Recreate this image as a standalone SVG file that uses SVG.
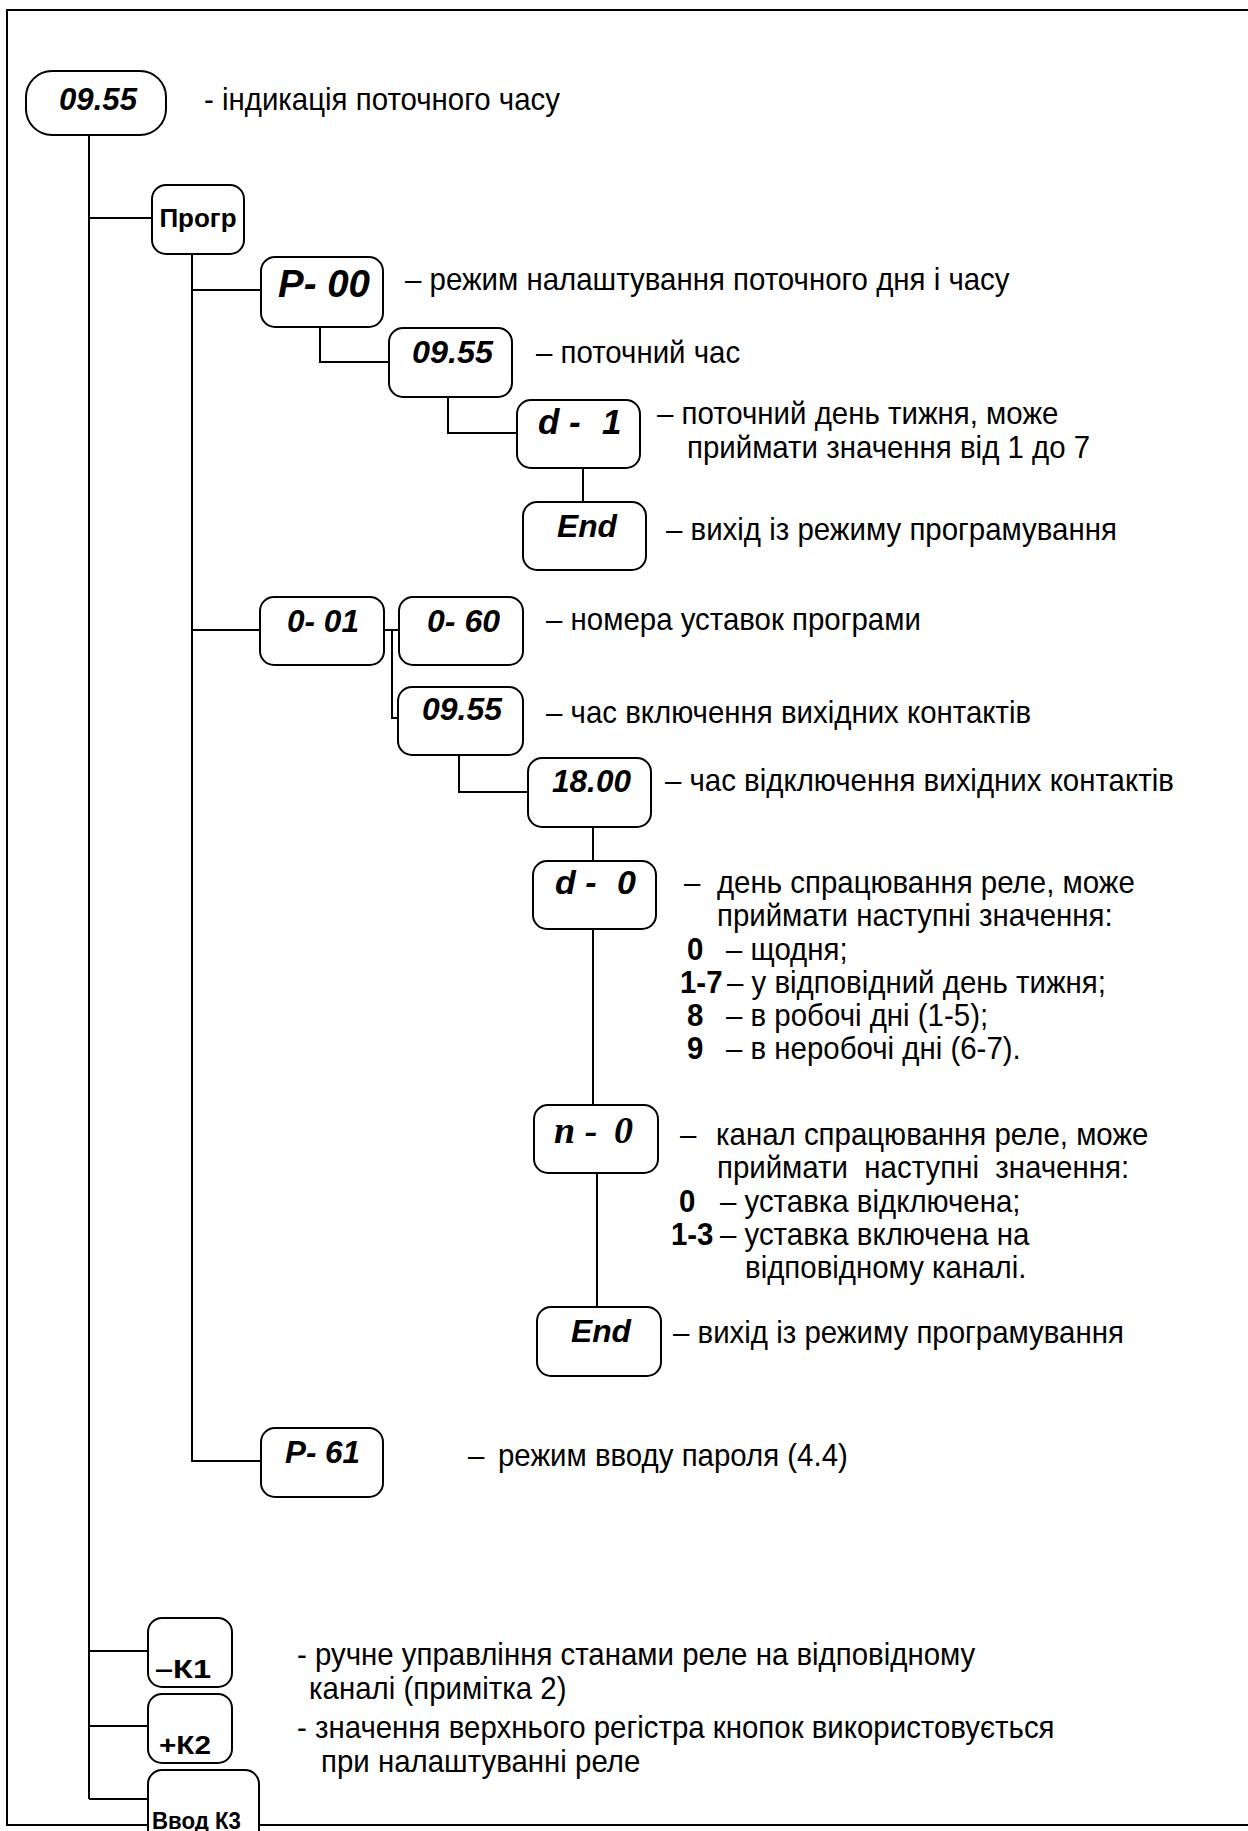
<svg xmlns="http://www.w3.org/2000/svg" width="1248" height="1831" viewBox="0 0 1248 1831">
<style>
.box{fill:#fff;stroke:#000;stroke-width:2}
.ln{fill:none;stroke:#000;stroke-width:2}
.lbl{font-family:"Liberation Sans",Arial,sans-serif;font-weight:bold;font-style:italic;font-size:32px;fill:#000}
.btn{font-family:"Liberation Sans",Arial,sans-serif;font-weight:bold;font-size:26px;fill:#000}
.d{font-family:"Liberation Sans",Arial,sans-serif;font-size:32px;fill:#000}
.b{font-weight:bold}
</style>
<rect width="1248" height="1831" fill="#fff"/>
<path class="ln" d="M1248,10 H7 V1825 H1248"/>
<g id="connectors">
<path class="ln" d="M89,135 V1799"/>
<path class="ln" d="M89,218 H152"/>
<path class="ln" d="M89,1651 H148"/>
<path class="ln" d="M89,1726 H148"/>
<path class="ln" d="M89,1799 H148"/>
<path class="ln" d="M192,254 V1461 H261"/>
<path class="ln" d="M192,290 H261"/>
<path class="ln" d="M192,630 H260"/>
<path class="ln" d="M320,327 V362 H389"/>
<path class="ln" d="M448,397 V433 H517"/>
<path class="ln" d="M583,468 V502"/>
<path class="ln" d="M384,630 H399"/>
<path class="ln" d="M392,630 V718 H398"/>
<path class="ln" d="M459,755 V792 H528"/>
<path class="ln" d="M593,827 V861"/>
<path class="ln" d="M593,929 V1105"/>
<path class="ln" d="M597,1173 V1307"/>
</g>
<g id="n_top"><rect class="box" x="26" y="71" width="140" height="64" rx="26"/><text class="lbl" x="59" y="110" textLength="78" lengthAdjust="spacingAndGlyphs">09.55</text></g>
<g id="n_prog"><rect class="box" x="152" y="185" width="92" height="69" rx="14"/><text class="btn" x="198" y="227" text-anchor="middle">Прогр</text></g>
<g id="n_p00"><rect class="box" x="261" y="257" width="122" height="70" rx="14"/><text class="lbl" x="278" y="297" style="font-size:38px" textLength="92" lengthAdjust="spacingAndGlyphs">P- 00</text></g>
<g id="n_t1"><rect class="box" x="389" y="328" width="123" height="69" rx="14"/><text class="lbl" x="412" y="363" textLength="81" lengthAdjust="spacingAndGlyphs">09.55</text></g>
<g id="n_d1"><rect class="box" x="517" y="400" width="123" height="68" rx="14"/><text class="lbl" style="font-size:35px" y="434"><tspan x="538">d -</tspan><tspan x="602">1</tspan></text></g>
<g id="n_end1"><rect class="box" x="523" y="502" width="123" height="68" rx="14"/><text class="lbl" x="557" y="537" textLength="60" lengthAdjust="spacingAndGlyphs">End</text></g>
<g id="n_o01"><rect class="box" x="260" y="597" width="124" height="68" rx="14"/><text class="lbl" x="287" y="632" textLength="72" lengthAdjust="spacingAndGlyphs">0- 01</text></g>
<g id="n_o60"><rect class="box" x="399" y="597" width="124" height="68" rx="14"/><text class="lbl" x="427" y="632" textLength="73" lengthAdjust="spacingAndGlyphs">0- 60</text></g>
<g id="n_t2"><rect class="box" x="398" y="687" width="125" height="68" rx="14"/><text class="lbl" x="422" y="720" textLength="80" lengthAdjust="spacingAndGlyphs">09.55</text></g>
<g id="n_t3"><rect class="box" x="528" y="758" width="123" height="69" rx="14"/><text class="lbl" x="552" y="792" textLength="79" lengthAdjust="spacingAndGlyphs">18.00</text></g>
<g id="n_d0"><rect class="box" x="533" y="861" width="123" height="68" rx="14"/><text class="lbl" style="font-size:34px" y="894"><tspan x="555">d -</tspan><tspan x="617">0</tspan></text></g>
<g id="n_n0"><rect class="box" x="534" y="1105" width="124" height="68" rx="14"/><text style="font-family:'Liberation Serif','Times New Roman',serif;font-weight:bold;font-style:italic;font-size:38px" y="1143"><tspan x="554">n -</tspan><tspan x="614">0</tspan></text></g>
<g id="n_end2"><rect class="box" x="537" y="1307" width="124" height="69" rx="14"/><text class="lbl" x="571" y="1342" textLength="60" lengthAdjust="spacingAndGlyphs">End</text></g>
<g id="n_p61"><rect class="box" x="261" y="1428" width="122" height="69" rx="14"/><text class="lbl" x="285" y="1463" textLength="75" lengthAdjust="spacingAndGlyphs">P- 61</text></g>
<g id="n_k1"><rect class="box" x="148" y="1618" width="84" height="69" rx="14"/><text class="btn" x="155" y="1678" textLength="56" lengthAdjust="spacingAndGlyphs">–К1</text></g>
<g id="n_k2"><rect class="box" x="148" y="1694" width="84" height="69" rx="14"/><text class="btn" x="159" y="1754" textLength="52" lengthAdjust="spacingAndGlyphs">+К2</text></g>
<g id="n_k3"><rect class="box" x="148" y="1770" width="111" height="80" rx="14"/><text class="btn" x="152" y="1829" style="font-size:23px" textLength="89" lengthAdjust="spacingAndGlyphs">Ввод К3</text></g>
<g id="descriptions" transform="scale(0.92,1)">
<text class="d" x="221.7" y="110">- індикація поточного часу</text>
<text class="d" x="440.2" y="290">– режим налаштування поточного дня і часу</text>
<text class="d" x="582.6" y="363">– поточний час</text>
<text class="d" x="714.1" y="424">– поточний день тижня, може</text>
<text class="d" x="746.7" y="458">приймати значення від 1 до 7</text>
<text class="d" x="723.9" y="540">– вихід із режиму програмування</text>
<text class="d" x="593.5" y="630">– номера уставок програми</text>
<text class="d" x="593.5" y="723">– час включення вихідних контактів</text>
<text class="d" x="722.8" y="791">– час відключення вихідних контактів</text>
<text class="d" y="893"><tspan x="743.5">–</tspan><tspan x="779.3">день спрацювання реле, може</tspan></text>
<text class="d" x="779.3" y="926">приймати наступні значення:</text>
<text class="d" y="960"><tspan class="b" x="746.7">0</tspan><tspan x="789.1">– щодня;</tspan></text>
<text class="d" y="993"><tspan class="b" x="739.1">1-7</tspan><tspan x="790.2">– у відповідний день тижня;</tspan></text>
<text class="d" y="1026"><tspan class="b" x="746.7">8</tspan><tspan x="789.1">– в робочі дні (1-5);</tspan></text>
<text class="d" y="1059"><tspan class="b" x="746.7">9</tspan><tspan x="789.1">– в неробочі дні (6-7).</tspan></text>
<text class="d" y="1145"><tspan x="739.1">–</tspan><tspan x="778.3">канал спрацювання реле, може</tspan></text>
<text class="d" x="779.3" y="1178" style="white-space:pre">приймати  наступні  значення:</text>
<text class="d" y="1212"><tspan class="b" x="738">0</tspan><tspan x="782.6">– уставка відключена;</tspan></text>
<text class="d" y="1245"><tspan class="b" x="729.3">1-3</tspan><tspan x="782.6">– уставка включена на</tspan></text>
<text class="d" x="809.8" y="1278">відповідному каналі.</text>
<text class="d" x="731.5" y="1343">– вихід із режиму програмування</text>
<text class="d" y="1466"><tspan x="508.7">–</tspan><tspan x="541.3">режим вводу пароля (4.4)</tspan></text>
<text class="d" x="322.8" y="1665">- ручне управління станами реле на відповідному</text>
<text class="d" x="335.9" y="1699">каналі (примітка 2)</text>
<text class="d" x="322.8" y="1738">- значення верхнього регістра кнопок використовується</text>
<text class="d" x="348.9" y="1772">при налаштуванні реле</text>
</g>
</svg>
